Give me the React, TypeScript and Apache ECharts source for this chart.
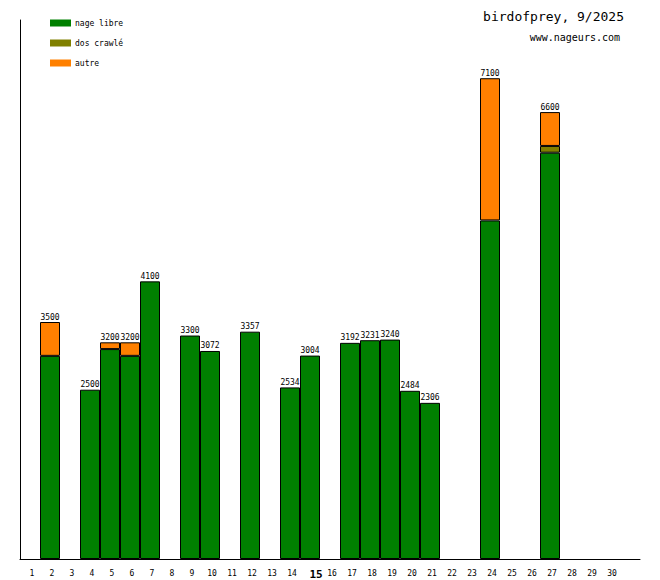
import React, { useEffect, useRef } from "react";
import * as echarts from "echarts";

const days = ["1","2","3","4","5","6","7","8","9","10","11","12","13","14","15","16","17","18","19","20","21","22","23","24","25","26","27","28","29","30",""];
// values per day (null = no swim)
const nageLibre = [null,3000,null,2500,3100,3000,4100,null,3300,3072,null,3357,null,2534,3004,null,3192,3231,3240,2484,2306,null,null,5000,null,null,6000,null,null,null,null];
const dosCrawle = [null,null,null,null,null,null,null,null,null,null,null,null,null,null,null,null,null,null,null,null,null,null,null,null,null,null,100,null,null,null,null];
const autre = [null,500,null,null,100,200,null,null,null,null,null,null,null,null,null,null,null,null,null,null,null,null,null,2100,null,null,500,null,null,null,null];
const totals = [null,3500,null,2500,3200,3200,4100,null,3300,3072,null,3357,null,2534,3004,null,3192,3231,3240,2484,2306,null,null,7100,null,null,6600,null,null,null,null];

const titleText = "birdofprey, 9/2025";
const siteText = "www.nageurs.com";
const FONT = "DejaVu Sans Mono";

export default function App() {
  const ref = useRef<HTMLDivElement>(null);
  useEffect(() => {
    if (!ref.current) return;
    const chart = echarts.init(ref.current, null, { renderer: "svg" });
    const toSeries = (arr: (number | null)[]) => arr.map((v) => (v == null ? "-" : v));
    const common = {
      type: "bar" as const,
      stack: "t",
      barCategoryGap: "0%",
      barGap: "0%",
      itemStyle: { borderColor: "#000", borderWidth: 1 },
    };
    chart.setOption({
      animation: false,
      backgroundColor: "#fff",
      grid: { left: 20, right: 20, top: 20, bottom: 20 },
      legend: {
        orient: "vertical",
        left: 50,
        top: 19,
        itemWidth: 21,
        itemHeight: 7,
        itemGap: 12,
        icon: "rect",
        padding: 0,
        textStyle: { fontFamily: FONT, fontSize: 8, color: "#000", lineHeight: 8, padding: [0, 0, 0, -1] },
        itemStyle: { borderWidth: 0 },
        data: ["nage libre", "dos crawlé", "autre"],
      },
      graphic: [
        {
          type: "text",
          right: 36,
          top: 10,
          style: { text: titleText, fontFamily: FONT, fontSize: 13, fill: "#000" },
        },
        {
          type: "text",
          right: 40,
          top: 32,
          style: { text: siteText, fontFamily: FONT, fontSize: 10, fill: "#000" },
        },
      ],
      xAxis: {
        type: "category",
        data: days,
        boundaryGap: true,
        axisLine: { lineStyle: { color: "#000", width: 1 } },
        axisTick: { show: false },
        axisLabel: {
          interval: 0,
          fontFamily: FONT,
          fontSize: 8,
          color: "#000",
          margin: 10,
          padding: [0, 0, 0, 4],
          formatter: (v: string) => (v === "15" ? "{b|15}" : v),
          rich: { b: { fontFamily: FONT, fontSize: 11, fontWeight: "bold", color: "#000", padding: [0, 0, 0, 8] } },
        },
      },
      yAxis: {
        type: "value",
        min: 0,
        max: 7960,
        splitLine: { show: false },
        axisLabel: { show: false },
        axisTick: { show: false },
        axisLine: { show: true, lineStyle: { color: "#000", width: 1 } },
      },
      series: [
        { ...common, name: "nage libre", color: "#008000", data: toSeries(nageLibre) },
        { ...common, name: "dos crawlé", color: "#808000", data: toSeries(dosCrawle) },
        { ...common, name: "autre", color: "#ff8000", data: toSeries(autre) },
        {
          type: "bar",
          stack: "t",
          name: "total",
          data: totals.map((v) => (v == null ? "-" : 0)),
          itemStyle: { color: "transparent", borderWidth: 0 },
          silent: true,
          label: {
            show: true,
            position: "top",
            distance: 1,
            fontFamily: FONT,
            fontSize: 8,
            color: "#000",
            formatter: (p: any) => String(totals[p.dataIndex] ?? ""),
          },
        },
      ],
    });
    return () => chart.dispose();
  }, []);
  return <div ref={ref} style={{ position: "absolute", left: 0, top: 0, width: 660, height: 580 }} />;
}
